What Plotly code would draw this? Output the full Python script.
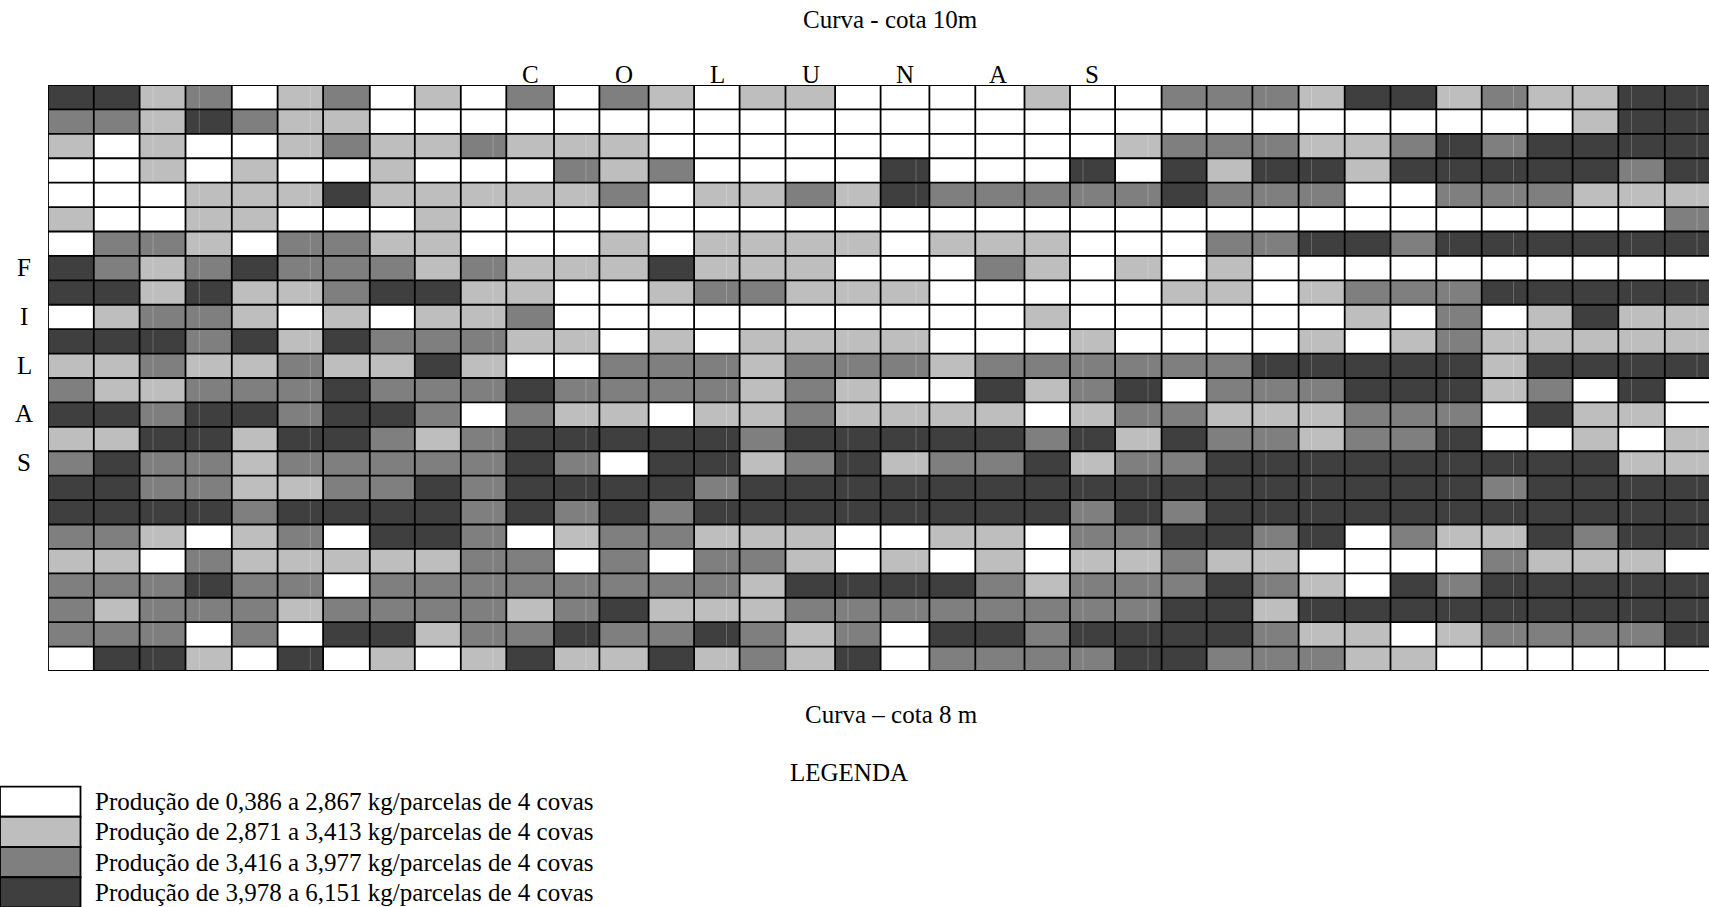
import plotly.graph_objects as go

# Production class of every plot: 0 lowest ... 3 highest (rows = filas, columns = colunas)
row_01 = [3,3,1,2,0,1,2,0,1,0,2,0,2,1,0,1,1,0,0,0,0,1,0,0,2,2,2,1,3,3,1,2,1,1,3,3]
row_02 = [2,2,1,3,2,1,1,0,0,0,0,0,0,0,0,0,0,0,0,0,0,0,0,0,0,0,0,0,0,0,0,0,0,1,3,3]
row_03 = [1,0,1,0,0,1,2,1,1,2,1,1,1,0,0,0,0,0,0,0,0,0,0,1,2,2,2,1,1,2,3,2,3,3,3,3]
row_04 = [0,0,1,0,1,0,0,1,0,0,0,2,1,2,0,0,0,0,3,0,0,0,3,0,3,1,3,3,1,3,3,3,3,3,2,3]
row_05 = [0,0,0,1,1,1,3,1,1,1,1,1,2,0,1,1,2,1,3,2,2,2,2,2,3,2,2,2,0,0,2,2,2,1,1,1]
row_06 = [1,0,0,1,1,0,0,0,1,0,0,0,0,0,0,0,0,0,0,0,0,0,0,0,0,0,0,0,0,0,0,0,0,0,0,2]
row_07 = [0,2,2,1,0,2,2,1,1,0,0,0,1,0,1,1,1,1,0,1,1,1,0,0,0,2,2,3,3,2,3,3,3,3,3,3]
row_08 = [3,2,1,2,3,2,2,2,1,2,1,1,1,3,1,1,1,0,0,0,2,1,0,1,0,1,0,0,0,0,0,0,0,0,0,0]
row_09 = [3,3,1,3,1,1,2,3,3,1,1,0,0,1,2,2,1,1,1,0,0,0,0,0,1,1,0,1,2,2,2,3,3,3,3,3]
row_10 = [0,1,2,2,1,0,1,0,1,1,2,0,0,0,0,0,0,0,0,0,0,1,0,0,0,0,0,0,1,0,2,0,1,3,1,1]
row_11 = [3,3,3,2,3,1,3,2,2,2,1,1,0,1,0,1,1,1,1,0,0,0,1,0,0,0,0,1,0,1,2,1,1,1,1,1]
row_12 = [1,1,2,1,1,2,1,1,3,1,0,0,2,2,2,1,2,2,2,1,2,2,2,2,2,2,3,3,3,3,3,1,3,3,3,3]
row_13 = [2,1,1,2,2,2,3,2,2,2,3,2,2,2,2,1,2,1,0,0,3,1,2,3,0,2,2,2,3,3,3,1,2,0,3,0]
row_14 = [3,3,2,3,3,2,3,3,2,0,2,1,1,0,1,1,2,1,1,1,1,0,1,2,2,1,1,1,2,2,2,0,3,1,1,0]
row_15 = [1,1,3,3,1,3,3,2,1,2,3,3,3,3,3,2,3,3,3,3,3,2,3,1,3,2,2,1,2,2,3,0,0,1,0,1]
row_16 = [2,3,2,2,1,2,2,2,2,2,3,2,0,3,3,1,2,3,1,2,2,3,1,2,2,3,3,3,3,3,3,3,3,3,1,1]
row_17 = [3,3,2,2,1,1,2,2,3,2,3,3,3,3,2,3,3,3,3,3,3,3,3,3,3,3,3,3,3,3,3,2,3,3,3,3]
row_18 = [3,3,3,3,2,3,3,3,3,2,3,2,3,2,3,3,3,3,3,3,3,3,2,3,2,3,3,3,3,3,3,3,3,3,3,3]
row_19 = [2,2,1,0,1,2,0,3,3,2,0,1,2,2,1,1,1,0,0,1,1,0,2,2,3,3,2,3,0,2,1,1,3,2,3,3]
row_20 = [1,1,0,2,1,1,1,1,1,2,2,0,2,0,2,2,1,0,1,0,1,0,1,1,2,1,1,0,0,0,0,2,1,1,1,0]
row_21 = [2,2,2,3,2,2,0,2,2,2,2,2,2,2,2,1,3,3,3,3,2,1,2,2,2,3,2,1,0,3,2,3,3,3,3,3]
row_22 = [2,1,2,2,2,1,2,2,2,2,1,2,3,1,1,1,2,2,2,2,2,2,2,2,3,3,1,3,3,3,3,3,3,3,3,3]
row_23 = [2,2,2,0,2,0,3,3,1,2,2,3,2,2,3,2,1,2,0,3,3,2,3,3,3,3,2,1,1,0,1,2,2,2,2,3]
row_24 = [0,3,3,1,0,3,0,1,0,1,3,1,1,3,1,2,1,3,0,2,2,2,2,3,3,2,2,2,1,1,0,0,0,0,0,0]
rows = [row_01,row_02,row_03,row_04,row_05,row_06,row_07,row_08,row_09,row_10,row_11,row_12,
        row_13,row_14,row_15,row_16,row_17,row_18,row_19,row_20,row_21,row_22,row_23,row_24]

class_colors = ["#ffffff", "#bebebe", "#7f7f7f", "#3f3f3f"]
legend_labels = ["Produção de 0,386 a 2,867 kg/parcelas de 4 covas",
                 "Produção de 2,871 a 3,413 kg/parcelas de 4 covas",
                 "Produção de 3,416 a 3,977 kg/parcelas de 4 covas",
                 "Produção de 3,978 a 6,151 kg/parcelas de 4 covas"]
colunas_letters = list("COLUNAS")
filas_letters = list("FILAS")

W, H = 1709, 907
left, top, bottom = 48.0, 85.3, 670.6
col_widths = [45.8,45.8,45.9,46.3,45.8,45.5,46.7,45,46,45.5,47.7,45.4,49.2,45.5,45.5,45.9,49.6,45.5,
              48.8,45.9,49.2,45.5,45.1,46.5,45,45.8,46.2,46.1,45.8,45.8,45.4,45.8,45.1,45.7,46.5,46]
edges = [0.0]
for w in col_widths:
    edges.append(edges[-1] + w)
n_rows = len(rows)
xmax = W - left

# faint vertical streaks inside the scanned grid
streaks = [105, 151.3, 262.3, 445, 538, 678.5, 800, 868, 1035, 1100, 1218, 1263.5, 1401.5, 1465.5, 1583.5, 1649]

steps = []
for i, c in enumerate(class_colors):
    steps += [[i / 4, c], [(i + 1) / 4, c]]

fig = go.Figure()
fig.add_trace(go.Heatmap(z=rows, x=edges, y=list(range(1, n_rows + 1)), zmin=0, zmax=4,
                         colorscale=steps, showscale=False, hoverinfo="skip"))

sx, sy = [], []
for s in streaks:
    sx += [s, s, None]
    sy += [0.5, n_rows + 0.5, None]
fig.add_trace(go.Scatter(x=sx, y=sy, mode="lines", line=dict(color="rgba(255,255,255,0.22)", width=1),
                         hoverinfo="skip", showlegend=False))

gx, gy = [], []
for e in edges:
    gx += [e, e, None]
    gy += [0.5, n_rows + 0.5, None]
for r in range(n_rows + 1):
    gx += [0, edges[-1], None]
    gy += [r + 0.5, r + 0.5, None]
fig.add_trace(go.Scatter(x=gx, y=gy, mode="lines", line=dict(color="#000000", width=1.8),
                         hoverinfo="skip", showlegend=False, cliponaxis=False))


def px(x):
    return (x - left) / (W - left)


def py(y):
    return (bottom - y) / (bottom - top)


def label(text, x, y, anchor="center", size=25):
    fig.add_annotation(text=text, xref="paper", yref="paper", x=px(x), y=py(y), xanchor=anchor,
                       yanchor="middle", showarrow=False, align="left",
                       font=dict(family="Liberation Serif", size=size, color="#000000"))


label("Curva - cota 10m", 890.5, 20)
label("Curva – cota 8 m", 891, 714)
label("LEGENDA", 849, 772)
for i, ch in enumerate(colunas_letters):
    label(ch, 530 + i * 93.7, 75)
for i, ch in enumerate(filas_letters):
    label(ch, 24, 268 + i * 48.5)

swatch_top, swatch_h, swatch_w = 786.0, 30.2, 80.5
for i, (c, t) in enumerate(zip(class_colors, legend_labels)):
    fig.add_shape(type="rect", xref="paper", yref="paper", x0=px(0), x1=px(swatch_w),
                  y0=py(swatch_top + i * swatch_h), y1=py(swatch_top + (i + 1) * swatch_h),
                  fillcolor=c, line=dict(color="#000000", width=1.8))
    label(t, 92.5, swatch_top + 15 + i * swatch_h, anchor="left")

fig.update_layout(width=W, height=H, autosize=False, showlegend=False,
                  margin=dict(l=left, r=0, t=top, b=H - bottom, pad=0),
                  paper_bgcolor="#ffffff", plot_bgcolor="#ffffff",
                  xaxis=dict(range=[0, xmax], visible=False, fixedrange=True),
                  yaxis=dict(range=[n_rows + 0.5, 0.5], visible=False, fixedrange=True))

fig.write_html("out.html", config={"displayModeBar": False},
               post_script="document.body.style.margin='0';document.body.style.overflow='hidden';")
